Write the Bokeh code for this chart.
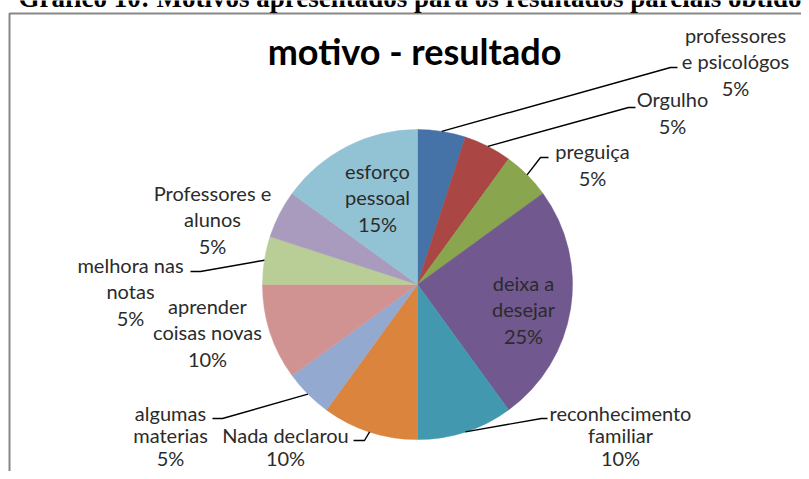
import math
from bokeh.plotting import figure
from bokeh.models import Range1d, ColumnDataSource
from bokeh.core.properties import value
from bokeh.embed import file_html
from bokeh.resources import INLINE

# ---- data ----
header = "Gráfico 10: Motivos apresentados para os resultados parciais obtidos"
title = "motivo - resultado"
categories = ["professores e psicológos", "Orgulho", "preguiça", "deixa a desejar",
              "reconhecimento familiar", "Nada declarou", "algumas materias",
              "aprender coisas novas", "melhora nas notas", "Professores e alunos",
              "esforço pessoal"]
percent = [5, 5, 5, 25, 10, 10, 5, 10, 5, 5, 15]
colors = ["#4572A7", "#AA4643", "#89A54E", "#71588F", "#4198AF", "#DB843D",
          "#93A9CF", "#D19392", "#B9CD96", "#A99BBD", "#92C3D4"]

# ---- layout (picture pixel coordinates) ----
display = ["professores\ne psicológos", "Orgulho", "preguiça", "deixa a\ndesejar",
           "reconhecimento\nfamiliar", "Nada declarou", "algumas\nmaterias",
           "aprender\ncoisas novas", "melhora nas\nnotas", "Professores e\nalunos",
           "esforço\npessoal"]
label_pos = [(735, 61), (672, 112), (592, 164), (523, 309), (620, 435), (285, 446),
             (170, 435), (207, 332), (130, 291), (212, 219), (377, 197)]
bottom_row = [False, False, False, False, True, True, True, False, False, False, False]
# leader: (elbow, end) or None for labels inside the pie
leaders = [((670, 67), (677, 67)), ((628, 107), (635, 107)), ((540, 157), (548, 157)),
           None, ((541, 418), (547, 418)), ((364, 440), (353, 440)),
           ((222, 418), (212, 418)), None, ((200, 271), (190, 271)), None, None]
CX, CY, R = 417, 284, 155
WIDTH, HEIGHT = 801, 471


def Y(py):
    return HEIGHT - py


p = figure(width=WIDTH, height=HEIGHT, output_backend="svg", toolbar_location=None,
           x_range=Range1d(0, WIDTH), y_range=Range1d(0, HEIGHT), min_border=0,
           x_axis_type=None, y_axis_type=None)
p.outline_line_color = None
p.grid.visible = False
p.background_fill_color = "white"
p.border_fill_color = "white"

# chart frame border
p.quad(left=[9], right=[900], top=[Y(13)], bottom=[-60], fill_color=None,
       line_color="#878787", line_width=2)

# pie
total = sum(percent)
starts, ends, mids = [], [], []
acc = 0
for v in percent:
    f0 = acc / total
    acc += v
    f1 = acc / total
    starts.append(math.pi / 2 - 2 * math.pi * f0)
    ends.append(math.pi / 2 - 2 * math.pi * f1)
    mids.append(math.pi / 2 - 2 * math.pi * (f0 + f1) / 2)

src = ColumnDataSource(dict(start=starts, end=ends, color=colors, cat=categories))
p.wedge(x=CX, y=Y(CY), radius=R, start_angle="start", end_angle="end",
        direction="clock", fill_color="color", line_color="color", line_width=0.5,
        source=src)

# leader lines
xs, ys = [], []
for m, ld in zip(mids, leaders):
    if ld is None:
        continue
    ex = CX + R * math.cos(m)
    ey = Y(CY) + R * math.sin(m)
    (bx, by), (tx, ty) = ld
    xs.append([ex, bx, tx])
    ys.append([ey, Y(by), Y(ty)])
p.multi_line(xs=xs, ys=ys, line_color="black", line_width=1.4)

# labels
lab_text = [f"{d}\n{v}%" for d, v in zip(display, percent)]
for is_bottom, lh in ((False, 1.1), (True, 0.95)):
    idx = [i for i, b in enumerate(bottom_row) if b == is_bottom]
    p.text(x=[label_pos[i][0] for i in idx], y=[Y(label_pos[i][1]) for i in idx],
           text=[lab_text[i] for i in idx],
           text_font=value("Lato"), text_font_size="20px", text_color="#2b2b2b",
           text_align="center", text_baseline="middle", text_line_height=lh)

# title
p.text(x=[414], y=[Y(50)], text=[title], text_font=value("Lato"),
       text_font_style="bold", text_font_size="36px", text_color="black",
       text_align="center", text_baseline="alphabetic")

# header (mostly above the visible area, as in the reference)
p.text(x=[18], y=[Y(-3)], text=[header], text_font=value("Liberation Serif"),
       text_font_style="bold", text_font_size="27px", text_color="black",
       text_align="left", text_baseline="alphabetic")

open("out.html", "w").write(file_html(p, INLINE))
